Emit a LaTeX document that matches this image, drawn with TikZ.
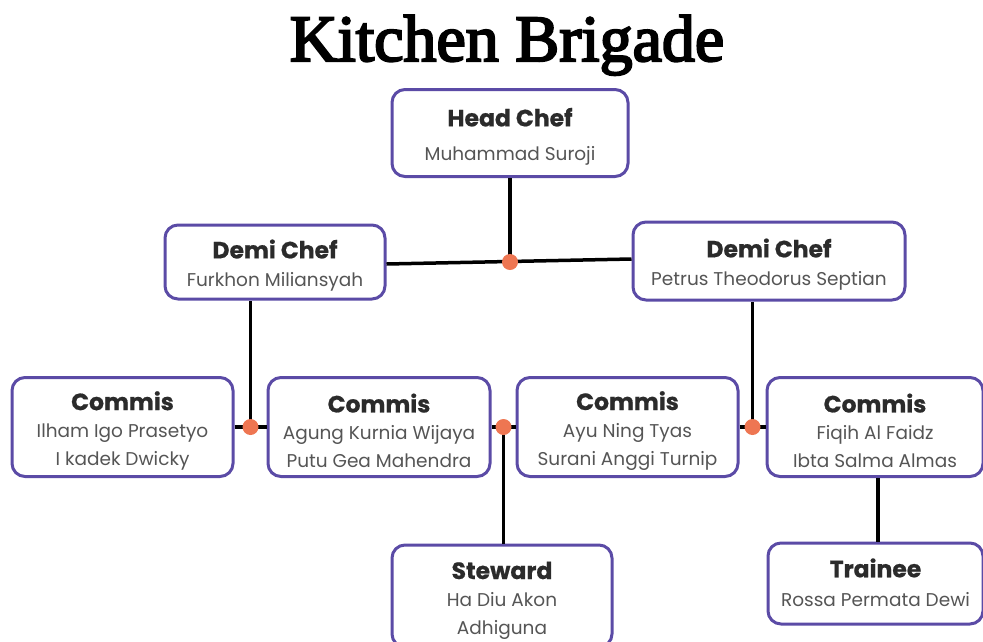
\documentclass[tikz,border=0pt]{standalone}
\usepackage{fontspec}
\setmainfont{Poppins}[BoldFeatures={FakeBold=0.7}]
\newfontfamily\titlefont{Liberation Serif}[BoldFont=*, BoldFeatures={FakeBold=3.2}]
\usepackage{tikz}
\usetikzlibrary{calc}

\definecolor{boxline}{HTML}{5B4BA6}
\definecolor{dotcol}{HTML}{EE7652}
\definecolor{namecol}{HTML}{555555}
\definecolor{rolecol}{HTML}{2B2B2B}
\newcommand{\rolename}[1]{{\fontsize{23.5}{28}\selectfont\bfseries\color{rolecol}\rule{0pt}{26pt}#1}}

\begin{document}
\begin{tikzpicture}[x=1pt, y=-1pt]

    \tikzset{
        rolebox/.style={draw=boxline, line width=3pt, rounded corners=13pt, fill=white,
            align=center, text=namecol, inner sep=0pt,
            font=\fontsize{18.5}{27.5}\selectfont},
        link/.style={line width=3.5pt, black},
        joint/.style={circle, fill=dotcol, inner sep=0pt, minimum size=16pt}
    }
    \useasboundingbox (0, 0) rectangle (983, 641);

    \node [anchor=base] (title) at (507, 61) {\titlefont\bfseries\fontsize{66}{72}\selectfont Kitchen Brigade};

    \node [rolebox, minimum width=236, minimum height=87] (H) at (510, 133)
        {\rolename{Head Chef}\\[7pt] Muhammad Suroji};
        \node [rolebox, minimum width=220, minimum height=74] (DL) at ($(H) + (-235, 129)$)
            {\rolename{Demi Chef}\\[1pt] Furkhon Miliansyah};
        \node [rolebox, minimum width=272, minimum height=78] (DR) at ($(H) + (259, 128)$)
            {\rolename{Demi Chef}\\[1pt] Petrus Theodorus Septian};
            \node [rolebox, minimum width=221, minimum height=99] (C1) at ($(DL) + (-152.5, 165)$)
                {\rolename{Commis}\\ Ilham Igo Prasetyo\\ I kadek Dwicky};
            \node [rolebox, minimum width=222, minimum height=99] (C2) at ($(DL) + (104, 165)$)
                {\rolename{Commis}\\ Agung Kurnia Wijaya\\ Putu Gea Mahendra};
            \node [rolebox, minimum width=221, minimum height=99] (C3) at ($(DR) + (-141.5, 166)$)
                {\rolename{Commis}\\ Ayu Ning Tyas\\ Surani Anggi Turnip};
            \node [rolebox, minimum width=216, minimum height=99] (C4) at ($(DR) + (106, 166)$)
                {\rolename{Commis}\\ Fiqih Al Faidz\\ Ibta Salma Almas};
                \node [rolebox, minimum width=220, minimum height=102] (S) at ($(C2) + (123, 169)$)
                    {\rolename{Steward}\\ Ha Diu Akon\\ Adhiguna};
                \node [rolebox, minimum width=215, minimum height=81] (TR) at ($(C4) + (0.5, 156.5)$)
                    {\rolename{Trainee}\\[2pt] Rossa Permata Dewi\rule[-9pt]{0pt}{9pt}};

    \coordinate (J0) at (H |- DL);
    \coordinate (J1) at ($(C1.east)!.5!(C2.west)$);
    \coordinate (J2) at ($(C2.east)!.5!(C3.west)$);
    \coordinate (J3) at ($(C3.east)!.5!(C4.west)$);

    \draw [link] (DL.east) ++(0, 2) -- ($(DR.west) + (0, -2)$);
    \draw [link] (H) -- (J0);
        \draw [link] (C1) -- (C2);
        \draw [link] (J1) -- (J1 |- DL.south);
        \draw [link] (C2) -- (C3);
        \draw [link] (J2) -- (J2 |- S.north);
        \draw [link] (C3) -- (C4);
        \draw [link] (J3) -- (J3 |- DR.south);
        \draw [link] (TR.north) ++(2.5, 0) -- ($(C4.south) + (3, 0)$);

    \node [joint] (j0) at (J0) {};
    \node [joint] (j1) at (J1) {};
    \node [joint] (j2) at (J2) {};
    \node [joint] (j3) at (J3) {};

\end{tikzpicture}
\end{document}
